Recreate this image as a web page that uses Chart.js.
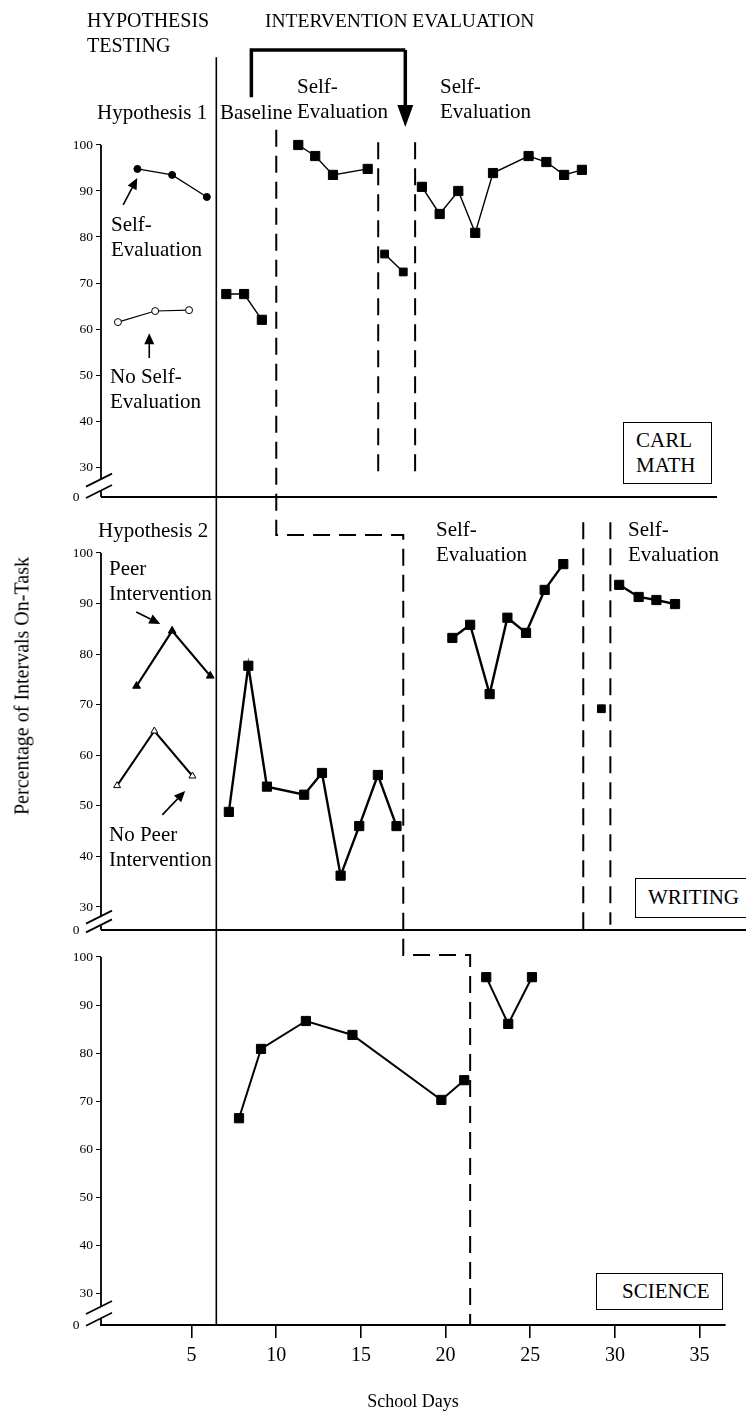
<!DOCTYPE html>
<html>
<head>
<title>Carl - Percentage of Intervals On-Task</title>
<script src="https://cdnjs.cloudflare.com/ajax/libs/Chart.js/4.4.1/chart.umd.min.js"></script>
<style>
body { margin:0; background:#fff; }
#wrap { position:relative; width:746px; height:1420px; font-family:"Liberation Serif", "DejaVu Serif", serif; color:#000; }
#wrap canvas { position:absolute; left:0; top:0; }
.t { position:absolute; font-size:21px; line-height:25px; white-space:nowrap; }
.box { position:absolute; border:1.5px solid #000; background:#fff; box-sizing:border-box; font-size:21px; line-height:25px; white-space:nowrap; }
</style>
</head>
<body>
<div id="wrap">
  <canvas id="myChart" width="746" height="1420"></canvas>

  <div class="t" style="left:87px;top:8px;font-size:20px;">HYPOTHESIS<br>TESTING</div>
  <div class="t" style="left:265px;top:8px;font-size:19.5px;">INTERVENTION EVALUATION</div>
  <div class="t" style="left:97px;top:100px;">Hypothesis 1</div>
  <div class="t" style="left:220px;top:100px;">Baseline</div>
  <div class="t" style="left:297px;top:74px;">Self-<br>Evaluation</div>
  <div class="t" style="left:440px;top:74px;">Self-<br>Evaluation</div>
  <div class="t" style="left:111px;top:212px;">Self-<br>Evaluation</div>
  <div class="t" style="left:110px;top:364px;">No Self-<br>Evaluation</div>
  <div class="box" style="left:623px;top:422px;width:89px;height:62px;padding:5px 0 0 12px;">CARL<br>MATH</div>

  <div class="t" style="left:98px;top:518px;">Hypothesis 2</div>
  <div class="t" style="left:109px;top:556px;">Peer<br>Intervention</div>
  <div class="t" style="left:109px;top:822px;">No Peer<br>Intervention</div>
  <div class="t" style="left:436px;top:517px;">Self-<br>Evaluation</div>
  <div class="t" style="left:628px;top:517px;">Self-<br>Evaluation</div>
  <div class="box" style="left:635px;top:878px;width:125px;height:40px;padding:6px 0 0 12px;">WRITING</div>

  <div class="box" style="left:596px;top:1273px;width:127px;height:37px;padding:5px 0 0 25px;">SCIENCE</div>

  <div class="t" style="left:22px;top:686px;font-size:20px;transform:translate(-50%,-50%) rotate(-90deg);">Percentage of Intervals On-Task</div>
</div>

<script>
// axis ticks
const xTicks = [5, 10, 15, 20, 25, 30, 35];
const yTicks = [30, 40, 50, 60, 70, 80, 90, 100];

// CARL MATH
const mathSelfEvalDays = [1.8, 3.85, 5.9];
const mathSelfEval = [94.8, 93.5, 88.7];
const mathNoSelfEvalDays = [0.65, 2.85, 4.85];
const mathNoSelfEval = [61.5, 63.9, 64.1];
const mathBaseDays = [7.05, 8.1, 9.15];
const mathBase = [67.6, 67.6, 62.0];
const mathSE1Days = [11.3, 12.3, 13.35, 15.4];
const mathSE1 = [100, 97.6, 93.5, 94.8];
const mathRevDays = [16.4, 17.5];
const mathRev = [76.3, 72.4];
const mathSE2Days = [18.6, 19.65, 20.75, 21.75, 22.8, 24.9, 25.95, 27.0, 28.05];
const mathSE2 = [90.9, 85.0, 90.0, 80.9, 93.9, 97.6, 96.3, 93.5, 94.6];

// WRITING
const writePeerDays = [1.75, 3.85, 6.1];
const writePeer = [73.7, 84.6, 75.7];
const writeNoPeerDays = [0.6, 2.8, 5.05];
const writeNoPeer = [54.0, 64.8, 55.9];
const writeBaseDays = [7.2, 8.35, 9.45, 11.65, 12.7, 13.8, 14.9, 16.0, 17.1];
const writeBase = [48.8, 77.7, 53.8, 52.2, 56.5, 36.2, 46.0, 56.1, 46.0];
const writeSE1Days = [20.4, 21.45, 22.6, 23.65, 24.75, 25.85, 26.95];
const writeSE1 = [83.2, 85.8, 72.1, 87.2, 84.2, 92.7, 97.8];
const writeRevDays = [29.2];
const writeRev = [69.2];
const writeSE2Days = [30.25, 31.4, 32.45, 33.55];
const writeSE2 = [93.7, 91.3, 90.7, 89.9];

// SCIENCE
const sciBaseDays = [7.8, 9.1, 11.75, 14.5, 19.75, 21.1];
const sciBase = [66.5, 80.9, 86.7, 83.8, 70.3, 74.4];
const sciSEDays = [22.4, 23.7, 25.1];
const sciSE = [95.8, 86.1, 95.8];

// phase change lines, [axis, day, value]
const solidLine = [['y1', 6.46, 119.1], ['y3', 6.46, 23.55]];
const stepLine = [['y1', 10.0, 103.3], ['y2', 10.0, 103.55], ['y2', 17.5, 103.55], ['y3', 17.5, 100.4], ['y3', 21.45, 100.4], ['y3', 21.45, 23.55]];
const dashLines = [
  [['y1', 16.02, 100.6], ['y1', 16.02, 28.7]],
  [['y1', 18.2, 100.6], ['y1', 18.2, 28.7]],
  [['y2', 28.13, 106.1], ['y2', 28.13, 25.45]],
  [['y2', 29.73, 106.1], ['y2', 29.73, 26.5]]
];
// arrow from top of the figure (start -> tip)
const bigArrow = [['y1', 8.53, 110.4], ['y1', 8.53, 120.65], ['y1', 17.62, 120.65], ['y1', 17.62, 103.9]];
const smallArrows = [
  [['y1', 0.96, 86.96], ['y1', 1.79, 92.8]],
  [['y1', 2.5, 53.7], ['y1', 2.5, 59.1]],
  [['y2', 1.73, 88.34], ['y2', 3.15, 85.97]],
  [['y2', 3.27, 48.22], ['y2', 4.62, 52.96]]
];
const panelRight = { y1: 36.03, y2: 37.9 };

function series(days, vals, axis, style) {
  return Object.assign({
    data: days.map((d, i) => ({ x: d, y: vals[i] })),
    yAxisID: axis,
    borderColor: '#000',
    backgroundColor: '#000',
    pointBackgroundColor: '#000',
    pointBorderColor: '#000',
    borderWidth: 2,
    pointStyle: 'rect',
    pointRadius: 6.5,
    pointBorderWidth: 1,
    tension: 0,
    clip: false
  }, style || {});
}

const dot = { pointStyle: 'circle', pointRadius: 3.5, borderWidth: 1.3 };
const ring = { pointStyle: 'circle', pointRadius: 3.5, borderWidth: 1.1, pointBackgroundColor: '#fff' };
const tri = { pointStyle: 'triangle', pointRadius: 4.5, borderWidth: 2.2 };
const openTri = { pointStyle: 'triangle', pointRadius: 4, borderWidth: 2, pointBackgroundColor: '#fff' };

function yAxis(min, max, weight) {
  return {
    type: 'linear', position: 'left', stack: 'panels', stackWeight: weight,
    min: min, max: max,
    border: { display: false },
    grid: { drawOnChartArea: false, drawTicks: true, tickLength: 5,
            color: (c) => c.tick && c.tick.value < 30 ? 'rgba(0,0,0,0)' : '#000' },
    ticks: { color: '#000', padding: 3, font: { family: 'Liberation Serif', size: 13.5 },
             // the broken axis starts at 0; keep its label clear of the break marks
             callback: (v) => v < 30 ? '0    ' : v },
    afterBuildTicks: (s) => { s.ticks = [min].concat(yTicks).map(v => ({ value: v })); },
    afterFit: (s) => { s.width = 101; s.paddingTop = 0; s.paddingBottom = 0; }
  };
}

function toPx(chart, p) {
  return [chart.scales.x.getPixelForValue(p[1]), chart.scales[p[0]].getPixelForValue(p[2])];
}

function polyline(ctx, chart, pts) {
  ctx.beginPath();
  pts.forEach((p, i) => {
    const q = toPx(chart, p);
    if (i === 0) ctx.moveTo(q[0], q[1]); else ctx.lineTo(q[0], q[1]);
  });
  ctx.stroke();
}

function arrow(ctx, a, b, len, half) {
  const ang = Math.atan2(b[1] - a[1], b[0] - a[0]);
  const bx = b[0] - len * Math.cos(ang), by = b[1] - len * Math.sin(ang);
  ctx.beginPath(); ctx.moveTo(a[0], a[1]); ctx.lineTo(bx, by); ctx.stroke();
  ctx.beginPath();
  ctx.moveTo(b[0], b[1]);
  ctx.lineTo(bx + half * Math.sin(ang), by - half * Math.cos(ang));
  ctx.lineTo(bx - half * Math.sin(ang), by + half * Math.cos(ang));
  ctx.closePath(); ctx.fill();
}

const panelLines = {
  id: 'panelLines',
  beforeDatasetsDraw(chart) {
    const ctx = chart.ctx;
    const left = chart.chartArea.left;
    ctx.save();
    ctx.strokeStyle = '#000';
    ctx.fillStyle = '#000';
    ctx.lineCap = 'butt';

    // y axis lines with a // break between 30 and 0, and panel baselines
    ['y1', 'y2', 'y3'].forEach((id) => {
      const s = chart.scales[id];
      const top = s.getPixelForValue(100), base = s.getPixelForValue(s.min);
      const y30 = s.getPixelForValue(30);
      const c1 = y30 + (base - y30) * 0.42, c2 = y30 + (base - y30) * 0.8;
      ctx.lineWidth = 1.8;
      ctx.beginPath();
      ctx.moveTo(left, top); ctx.lineTo(left, c1);
      ctx.moveTo(left, c2); ctx.lineTo(left, base);
      ctx.stroke();
      [c1, c2].forEach((c) => {
        ctx.beginPath(); ctx.moveTo(left - 15, c + 7); ctx.lineTo(left + 11, c - 6); ctx.stroke();
      });
      if (panelRight[id]) {
        ctx.lineWidth = 2;
        ctx.beginPath(); ctx.moveTo(left, base);
        ctx.lineTo(chart.scales.x.getPixelForValue(panelRight[id]), base); ctx.stroke();
      }
    });

    // phase change lines
    ctx.lineWidth = 1.6;
    polyline(ctx, chart, solidLine);
    ctx.lineWidth = 2;
    ctx.setLineDash([17, 9]);
    polyline(ctx, chart, stepLine);
    dashLines.forEach((l) => polyline(ctx, chart, l));
    ctx.setLineDash([]);

    // big arrow at the top
    ctx.lineWidth = 3.5;
    ctx.lineJoin = 'miter';
    polyline(ctx, chart, bigArrow.slice(0, 3));
    arrow(ctx, toPx(chart, bigArrow[2]), toPx(chart, bigArrow[3]), 22, 8);

    // label arrows
    ctx.lineWidth = 1.6;
    smallArrows.forEach((a) => arrow(ctx, toPx(chart, a[0]), toPx(chart, a[1]), 11, 5));
    ctx.restore();
  }
};

const ctx = document.getElementById('myChart').getContext('2d');
const chart = new Chart(ctx, {
  type: 'line',
  data: {
    datasets: [
      series(mathSelfEvalDays, mathSelfEval, 'y1', dot),
      series(mathNoSelfEvalDays, mathNoSelfEval, 'y1', ring),
      series(mathBaseDays, mathBase, 'y1', { borderWidth: 1.4 }),
      series(mathSE1Days, mathSE1, 'y1', { borderWidth: 1.4 }),
      series(mathRevDays, mathRev, 'y1', { borderWidth: 1.4, pointRadius: 5.5 }),
      series(mathSE2Days, mathSE2, 'y1', { borderWidth: 1.4 }),
      series(writePeerDays, writePeer, 'y2', tri),
      series(writeNoPeerDays, writeNoPeer, 'y2', openTri),
      series(writeBaseDays, writeBase, 'y2', { borderWidth: 2.4 }),
      series(writeSE1Days, writeSE1, 'y2', { borderWidth: 2.4 }),
      series(writeRevDays, writeRev, 'y2', { pointRadius: 5.5 }),
      series(writeSE2Days, writeSE2, 'y2', { borderWidth: 2.4 }),
      series(sciBaseDays, sciBase, 'y3', { borderWidth: 2 }),
      series(sciSEDays, sciSE, 'y3', { borderWidth: 2 })
    ]
  },
  options: {
    responsive: false,
    animation: false,
    events: [],
    layout: { autoPadding: false, padding: { left: 0, top: 0, right: 21, bottom: 0 } },
    plugins: { legend: { display: false }, tooltip: { enabled: false } },
    scales: {
      x: {
        type: 'linear', position: 'bottom', min: -0.35, max: 36.5,
        border: { display: true, color: '#000', width: 2 },
        grid: { drawOnChartArea: false, drawTicks: true, tickLength: 13, color: '#000', lineWidth: 1.6 },
        ticks: { color: '#000', padding: 6, maxRotation: 0, font: { family: 'Liberation Serif', size: 20 } },
        afterBuildTicks: (s) => { s.ticks = xTicks.map(v => ({ value: v })); },
        afterFit: (s) => { s.height = 95; },
        title: { display: true, text: 'School Days', color: '#000',
                 font: { family: 'Liberation Serif', size: 18 }, padding: { top: 4, bottom: 7 } }
      },
      // stacked panels are laid out bottom-up in definition order
      y3: yAxis(23.55, 105.6, 395),
      y2: yAxis(25.45, 111.07, 433),
      y1: yAxis(23.48, 131.52, 497)
    }
  },
  plugins: [panelLines]
});
</script>
</body>
</html>
